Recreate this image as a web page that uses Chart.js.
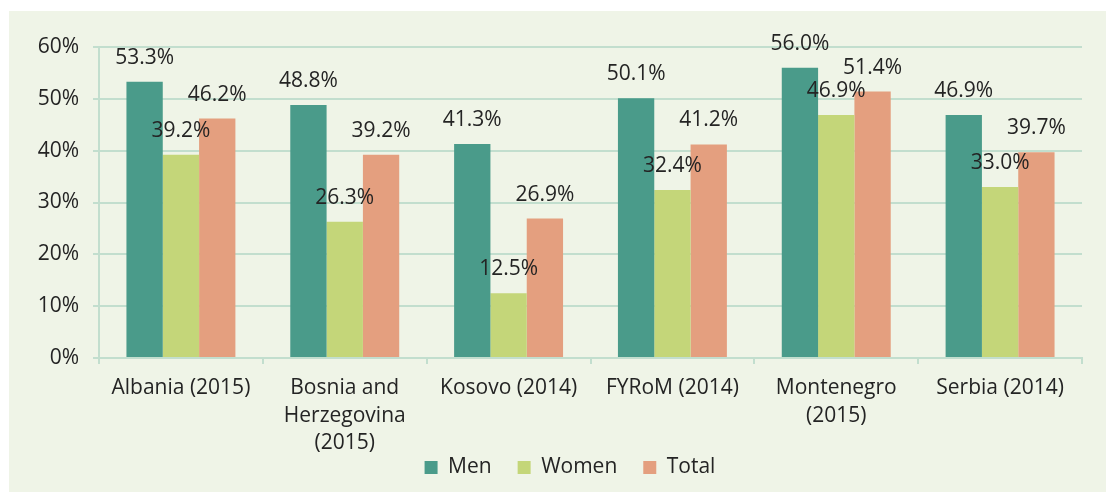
<!DOCTYPE html>
<html>
<head>
<meta charset="utf-8">
<script src="https://cdn.jsdelivr.net/npm/chart.js@4/dist/chart.umd.min.js"></script>
<style>
  html, body { margin: 0; padding: 0; background: #ffffff; overflow: hidden; }
  #bg { position: absolute; left: 9px; top: 11px; right: 0; bottom: 0; background: #eff4e7; }
  #wrap { position: absolute; left: 0; top: 0; width: 1106px; height: 492px; }
</style>
</head>
<body>
<div id="bg"></div>
<div id="wrap"><canvas id="c" width="1106" height="492"></canvas></div>
<script>
const categories = [
  'Albania (2015)',
  ['Bosnia and', 'Herzegovina', '(2015)'],
  'Kosovo (2014)',
  'FYRoM (2014)',
  ['Montenegro', '(2015)'],
  'Serbia (2014)'
];
const men   = [53.3, 48.8, 41.3, 50.1, 56.0, 46.9];
const women = [39.2, 26.3, 12.5, 32.4, 46.9, 33.0];
const total = [46.2, 39.2, 26.9, 41.2, 51.4, 39.7];
const yTicks = [0, 10, 20, 30, 40, 50, 60];

const FONT = '"Open Sans", "DejaVu Sans", sans-serif';
const TEXT = '#242424';
const GRID = '#c2dece';

const valueLabels = {
  id: 'valueLabels',
  afterDatasetsDraw(chart) {
    const ctx = chart.ctx;
    ctx.save();
    ctx.font = '21px ' + FONT;
    ctx.fillStyle = TEXT;
    ctx.textAlign = 'center';
    ctx.textBaseline = 'middle';
    chart.data.datasets.forEach((ds, i) => {
      const meta = chart.getDatasetMeta(i);
      meta.data.forEach((bar, j) => {
        ctx.fillText(ds.data[j].toFixed(1) + '%', bar.x, bar.y - 24);
      });
    });
    ctx.restore();
  }
};

// let tick labels draw outside the (fixed-size) scale boxes
const noLabelClip = s => { s._computeLabelArea = () => undefined; };

new Chart(document.getElementById('c'), {
  type: 'bar',
  data: {
    labels: categories,
    datasets: [
      { label: 'Men',   data: men,   backgroundColor: '#4a9b8a' },
      { label: 'Women', data: women, backgroundColor: '#c4d679' },
      { label: 'Total', data: total, backgroundColor: '#e49f7f' }
    ]
  },
  options: {
    responsive: false,
    animation: false,
    devicePixelRatio: 1,
    datasets: { bar: { categoryPercentage: 0.665, barPercentage: 1.0 } },
    layout: { padding: { left: 58, right: 24, top: 47, bottom: 4 } },
    plugins: {
      legend: {
        position: 'bottom',
        labels: {
          boxWidth: 13, boxHeight: 13, padding: 26,
          color: TEXT, font: { family: FONT, size: 21 }
        }
      },
      tooltip: { enabled: false }
    },
    scales: {
      x: {
        afterFit: s => { s.height = 73; noLabelClip(s); },
        grid: { drawOnChartArea: false, drawTicks: true, tickLength: 6, color: GRID, lineWidth: 2 },
        border: { color: GRID, width: 2 },
        ticks: { color: TEXT, padding: 10, maxRotation: 0, autoSkip: false,
                 font: { family: FONT, size: 21, lineHeight: 1.32 } }
      },
      y: {
        min: 0, max: 60,
        afterFit: s => { s.width = 41; noLabelClip(s); },
        afterBuildTicks: s => { s.ticks = yTicks.map(v => ({ value: v })); },
        grid: { color: GRID, lineWidth: 2, tickLength: 6 },
        border: { color: GRID, width: 2 },
        ticks: { color: TEXT, padding: 14, callback: v => v + '%',
                 font: { family: FONT, size: 21 } }
      }
    }
  },
  plugins: [valueLabels]
});
</script>
</body>
</html>
